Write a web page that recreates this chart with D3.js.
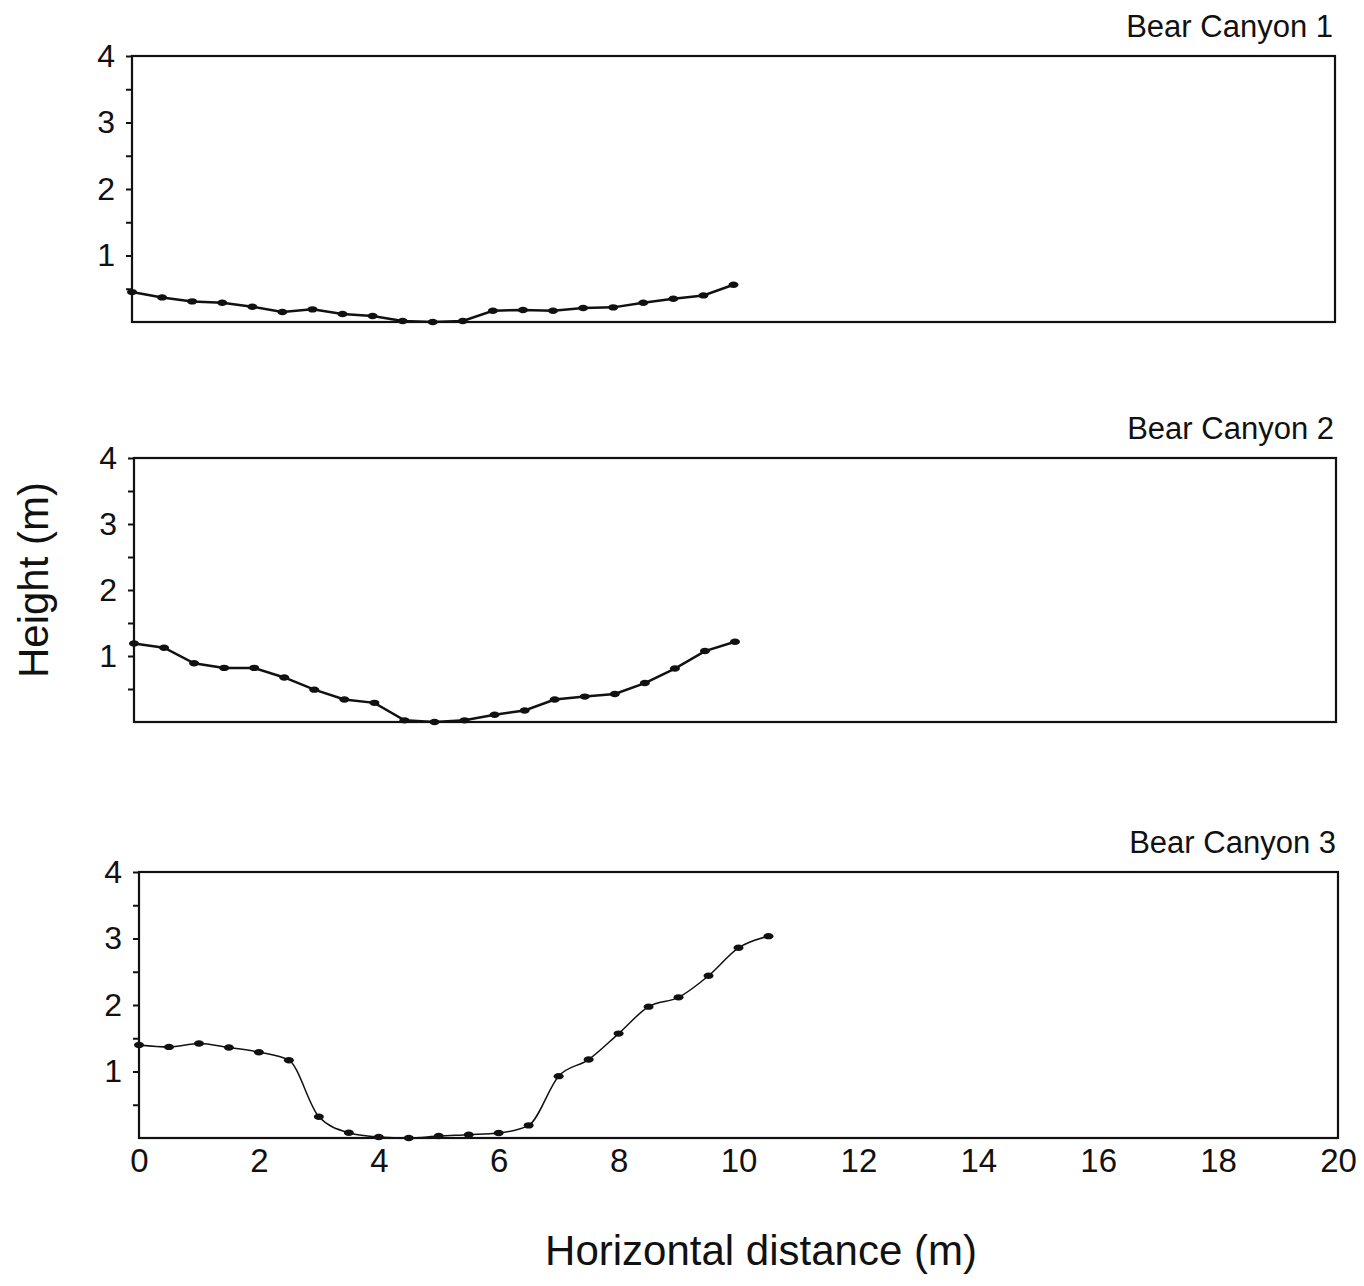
<!DOCTYPE html>
<html>
<head>
<meta charset="utf-8">
<script src="https://cdn.jsdelivr.net/npm/d3@7"></script>
<style>
  body { margin: 0; background: #fff; }
  text { font-family: "Liberation Sans", Arial, sans-serif; fill: #111; }
</style>
</head>
<body>
<div id="chart"></div>
<script>
// cross-section data (metres)
var titles = ["Bear Canyon 1", "Bear Canyon 2", "Bear Canyon 3"];

var dist1 = [0, 0.5, 1, 1.5, 2, 2.5, 3, 3.5, 4, 4.5, 5, 5.5, 6, 6.5, 7, 7.5, 8, 8.5, 9, 9.5, 10];
var height1 = [0.45, 0.37, 0.31, 0.29, 0.23, 0.15, 0.19, 0.12, 0.09, 0.015, 0, 0.015, 0.17, 0.18, 0.17, 0.21, 0.22, 0.29, 0.35, 0.40, 0.56];

var dist2 = [0, 0.5, 1, 1.5, 2, 2.5, 3, 3.5, 4, 4.5, 5, 5.5, 6, 6.5, 7, 7.5, 8, 8.5, 9, 9.5, 10];
var height2 = [1.19, 1.125, 0.89, 0.82, 0.82, 0.675, 0.49, 0.34, 0.29, 0.025, 0, 0.025, 0.11, 0.175, 0.34, 0.385, 0.425, 0.59, 0.81, 1.075, 1.215];

var dist3 = [0, 0.5, 1, 1.5, 2, 2.5, 3, 3.5, 4, 4.5, 5, 5.5, 6, 6.5, 7, 7.5, 8, 8.5, 9, 9.5, 10, 10.5];
var height3 = [1.40, 1.37, 1.42, 1.36, 1.29, 1.17, 0.32, 0.08, 0.015, 0, 0.03, 0.05, 0.075, 0.19, 0.93, 1.18, 1.57, 1.975, 2.115, 2.44, 2.86, 3.035];

var xTicks = [0, 2, 4, 6, 8, 10, 12, 14, 16, 18, 20];
var yTicks = [1, 2, 3, 4];
var yMinor = [0.5, 1.5, 2.5, 3.5];

var width = 1364,
    height = 1286;

// the three panels are not exactly lined up in the scan
var panels = [
    { left: 132, right: 1335, top: 56, bottom: 322, dist: dist1, h: height1, lw: 2.5, curve: d3.curveLinear },
    { left: 134, right: 1336, top: 458, bottom: 722, dist: dist2, h: height2, lw: 2.5, curve: d3.curveLinear },
    { left: 139, right: 1338, top: 872, bottom: 1138, dist: dist3, h: height3, lw: 1.5, curve: d3.curveMonotoneX }
];

var svg = d3.select("#chart")
    .append("svg")
    .attr("width", width)
    .attr("height", height);

panels.forEach(function (p, i) {
    var x = d3.scaleLinear().domain([0, 20]).range([p.left, p.right]);
    var y = d3.scaleLinear().domain([0, 4]).range([p.bottom, p.top]);

    var g = svg.append("g");

    // frame
    g.append("rect")
        .attr("x", p.left)
        .attr("y", p.top)
        .attr("width", p.right - p.left)
        .attr("height", p.bottom - p.top)
        .attr("fill", "none")
        .attr("stroke", "#111")
        .attr("stroke-width", 2.2);

    // y axis, major + minor ticks pointing out
    var yAxis = g.append("g")
        .attr("transform", "translate(" + p.left + ",0)")
        .call(d3.axisLeft(y).tickValues(yTicks).tickSize(6).tickPadding(11).tickFormat(d3.format("d")));
    yAxis.select(".domain").remove();
    yAxis.selectAll("line").attr("stroke", "#111").attr("stroke-width", 2);
    yAxis.selectAll("text")
        .style("font-size", "32px")
        .style("font-family", "'Liberation Sans', Arial, sans-serif")
        .attr("fill", "#111");

    var yMin = g.append("g")
        .attr("transform", "translate(" + p.left + ",0)")
        .call(d3.axisLeft(y).tickValues(yMinor).tickSize(6).tickFormat(""));
    yMin.select(".domain").remove();
    yMin.selectAll("line").attr("stroke", "#111").attr("stroke-width", 2);

    // x labels only on the last panel
    if (i == 2) {
        var xAxis = g.append("g")
            .attr("transform", "translate(0," + p.bottom + ")")
            .call(d3.axisBottom(x).tickValues(xTicks).tickSize(0).tickPadding(11).tickFormat(d3.format("d")));
        xAxis.select(".domain").remove();
        xAxis.selectAll("text")
            .style("font-size", "33px")
            .style("font-family", "'Liberation Sans', Arial, sans-serif")
            .attr("fill", "#111");
    }

    // title top right
    g.append("text")
        .attr("x", p.right - 2)
        .attr("y", p.top - 19)
        .attr("text-anchor", "end")
        .style("font-size", "31px")
        .text(titles[i]);

    var pts = p.dist.map(function (d, k) { return [d, p.h[k]]; });

    var line = d3.line()
        .curve(p.curve)
        .x(function (d) { return x(d[0]); })
        .y(function (d) { return y(d[1]); });

    g.append("path")
        .datum(pts)
        .attr("d", line)
        .attr("fill", "none")
        .attr("stroke", "#111")
        .attr("stroke-width", p.lw);

    g.selectAll(".pt")
        .data(pts)
        .enter()
        .append("ellipse")
        .attr("class", "pt")
        .attr("cx", function (d) { return x(d[0]); })
        .attr("cy", function (d) { return y(d[1]); })
        .attr("rx", 5)
        .attr("ry", 3.2)
        .attr("fill", "#111");
});

// axis titles
svg.append("text")
    .attr("x", 761)
    .attr("y", 1265)
    .attr("text-anchor", "middle")
    .style("font-size", "42px")
    .text("Horizontal distance (m)");

svg.append("text")
    .attr("transform", "translate(48,580) rotate(-90)")
    .attr("text-anchor", "middle")
    .style("font-size", "42px")
    .text("Height (m)");
</script>
</body>
</html>
